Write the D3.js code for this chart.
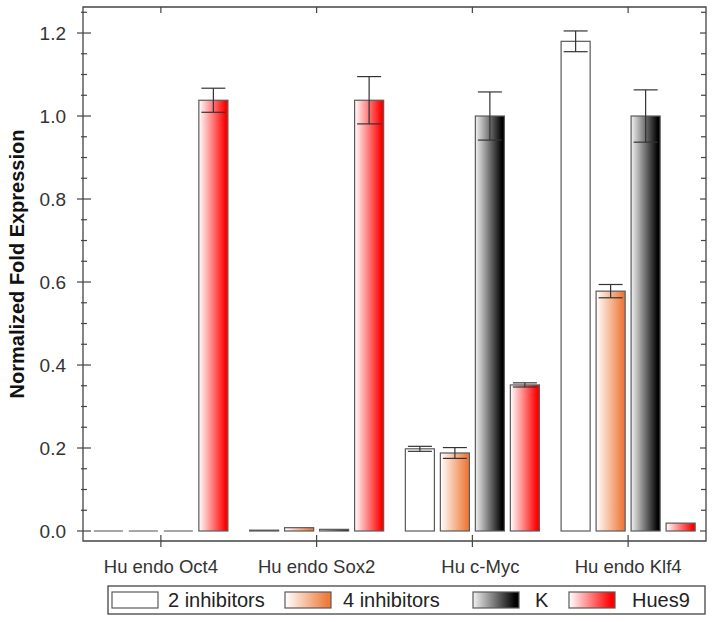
<!DOCTYPE html>
<html>
<head>
<meta charset="utf-8">
<script src="https://cdn.jsdelivr.net/npm/d3@7/dist/d3.min.js"></script>
<style>
  body { margin: 0; background: #fff; }
  svg { display: block; }
  text { font-family: "Liberation Sans", Arial, sans-serif; }
</style>
</head>
<body>
<svg id="chart" width="714" height="622"></svg>
<script>
// ---- data ----
const categories = ["Hu endo Oct4", "Hu endo Sox2", "Hu c-Myc", "Hu endo Klf4"];
const seriesNames = ["2 inhibitors", "4 inhibitors", "K", "Hues9"];
const twoInhibitors    = [0, 0.002, 0.198, 1.180];
const twoInhibitorsErr = [0, 0, 0.006, 0.025];
const fourInhibitors    = [0, 0.008, 0.188, 0.578];
const fourInhibitorsErr = [0, 0, 0.013, 0.016];
const kValues = [0, 0.004, 1.000, 1.000];
const kErr    = [0, 0, 0.058, 0.063];
const hues9Values = [1.038, 1.038, 0.352, 0.019];
const hues9Err    = [0.029, 0.057, 0.005, 0];
const yTickValues = [0.0, 0.2, 0.4, 0.6, 0.8, 1.0, 1.2];
const yTickLabels = ["0.0", "0.2", "0.4", "0.6", "0.8", "1.0", "1.2"];

const seriesValues = [twoInhibitors, fourInhibitors, kValues, hues9Values];
const seriesErrors = [twoInhibitorsErr, fourInhibitorsErr, kErr, hues9Err];

(function () {
// ---- layout ----
const svg = d3.select("#chart");
const pLeft = 83, pRight = 706, pTop = 7, pBottom = 541;

const y = d3.scaleLinear().domain([-0.0241, 1.2627]).range([pBottom, pTop]);
const x = d3.scaleBand().domain(categories).range([pLeft, pRight]).padding(0);
const xInner = d3.scaleBand().domain(seriesNames).range([0, 140]).paddingInner(0.17).paddingOuter(0.085);

// gradients
const defs = svg.append("defs");
const gradColors = [null, "#ee7b3c", "#000000", "#ff0000"];
const gradStart = [null, "#ffffff", "#f2f2f2", "#ffffff"];
gradColors.forEach((c, i) => {
  if (!c) return;
  const g = defs.append("linearGradient").attr("id", "g" + i)
    .attr("x1", "0%").attr("x2", "100%").attr("y1", "0%").attr("y2", "0%");
  g.append("stop").attr("offset", "0%").attr("stop-color", gradStart[i]);
  g.append("stop").attr("offset", "92%").attr("stop-color", c);
  g.append("stop").attr("offset", "100%").attr("stop-color", c);
});
const fillFor = i => i === 0 ? "#ffffff" : "url(#g" + i + ")";

// bars
const barData = [];
categories.forEach((cat, ci) => {
  seriesNames.forEach((s, si) => {
    barData.push({cat, s, si, v: seriesValues[si][ci], e: seriesErrors[si][ci]});
  });
});
const barX = d => x(d.cat) + x.bandwidth() / 2 - 70 + xInner(d.s);

svg.append("g").selectAll("rect").data(barData.filter(d => d.v > 0)).join("rect")
  .attr("x", barX)
  .attr("y", d => y(d.v))
  .attr("width", xInner.bandwidth())
  .attr("height", d => Math.max(0, y(0) - y(d.v)))
  .attr("fill", d => fillFor(d.si))
  .attr("stroke", "#5a5a5a")
  .attr("stroke-width", 1.2);

// zero-valued bars are drawn as flat outlines
svg.append("g").selectAll("line").data(barData.filter(d => d.v === 0)).join("line")
  .attr("x1", barX)
  .attr("x2", d => barX(d) + xInner.bandwidth())
  .attr("y1", y(0)).attr("y2", y(0))
  .attr("stroke", "#777").attr("stroke-width", 1.3);

// error bars
const eb = svg.append("g").attr("stroke", "#333").attr("stroke-width", 1.2);
barData.filter(d => d.e > 0).forEach(d => {
  const cx = barX(d) + xInner.bandwidth() / 2;
  const cap = 12;
  eb.append("line").attr("x1", cx).attr("x2", cx).attr("y1", y(d.v + d.e)).attr("y2", y(d.v - d.e));
  eb.append("line").attr("x1", cx - cap).attr("x2", cx + cap).attr("y1", y(d.v + d.e)).attr("y2", y(d.v + d.e));
  eb.append("line").attr("x1", cx - cap).attr("x2", cx + cap).attr("y1", y(d.v - d.e)).attr("y2", y(d.v - d.e));
});

// frame
const axisColor = "#444";
svg.append("path")
  .attr("d", `M${pLeft},${pTop}H${pRight}V${pBottom}H${pLeft}Z`)
  .attr("fill", "none").attr("stroke", axisColor).attr("stroke-width", 1.3);

// left/right axis ticks
const majorTicks = yTickValues;
const minorTicks = d3.range(0, 1.26, 0.05).filter(v => !majorTicks.some(m => Math.abs(m - v) < 1e-6));
const tg = svg.append("g").attr("stroke", axisColor).attr("stroke-width", 1.2);
majorTicks.forEach(v => {
  tg.append("line").attr("x1", pLeft - 6).attr("x2", pLeft + 8).attr("y1", y(v)).attr("y2", y(v));
  tg.append("line").attr("x1", pRight - 6).attr("x2", pRight).attr("y1", y(v)).attr("y2", y(v));
});
minorTicks.forEach(v => {
  tg.append("line").attr("x1", pLeft - 2).attr("x2", pLeft + 4).attr("y1", y(v)).attr("y2", y(v));
  tg.append("line").attr("x1", pRight - 5).attr("x2", pRight).attr("y1", y(v)).attr("y2", y(v));
});
// category ticks top and bottom
categories.forEach(c => {
  const cx = x(c) + x.bandwidth() / 2;
  tg.append("line").attr("x1", cx).attr("x2", cx).attr("y1", pBottom - 6).attr("y2", pBottom + 6);
  tg.append("line").attr("x1", cx).attr("x2", cx).attr("y1", pTop).attr("y2", pTop + 6);
});

// y tick labels
svg.append("g").selectAll("text").data(yTickValues).join("text")
  .attr("x", pLeft - 17).attr("y", d => y(d))
  .attr("dy", "0.36em")
  .attr("text-anchor", "end")
  .attr("font-size", 19).attr("fill", "#333")
  .text((d, i) => yTickLabels[i]);

// category labels
svg.append("g").selectAll("text").data(categories).join("text")
  .attr("x", d => x(d) + x.bandwidth() / 2 + (d === "Hu c-Myc" ? 8 : 0))
  .attr("y", 573)
  .attr("text-anchor", "middle")
  .attr("font-size", 18.5).attr("fill", "#333")
  .text(d => d);

// y title
svg.append("text")
  .attr("transform", "translate(24,264) rotate(-90)")
  .attr("text-anchor", "middle")
  .attr("font-size", 20).attr("font-weight", "bold").attr("fill", "#111")
  .text("Normalized Fold Expression");

// legend
const lg = svg.append("g");
lg.append("rect").attr("x", 108).attr("y", 586).attr("width", 597).attr("height", 28)
  .attr("fill", "#fff").attr("stroke", axisColor).attr("stroke-width", 1.3);
const swatchX = [112, 285, 473, 569];
const legendTextX = [168, 343, 535, 632];
seriesNames.forEach((s, i) => {
  lg.append("rect").attr("x", swatchX[i]).attr("y", 592).attr("width", 46).attr("height", 16)
    .attr("fill", fillFor(i)).attr("stroke", "#5a5a5a").attr("stroke-width", 1.2);
  lg.append("text").attr("x", legendTextX[i]).attr("y", 607)
    .attr("font-size", 20).attr("fill", "#222").text(s);
});
})();
</script>
</body>
</html>
